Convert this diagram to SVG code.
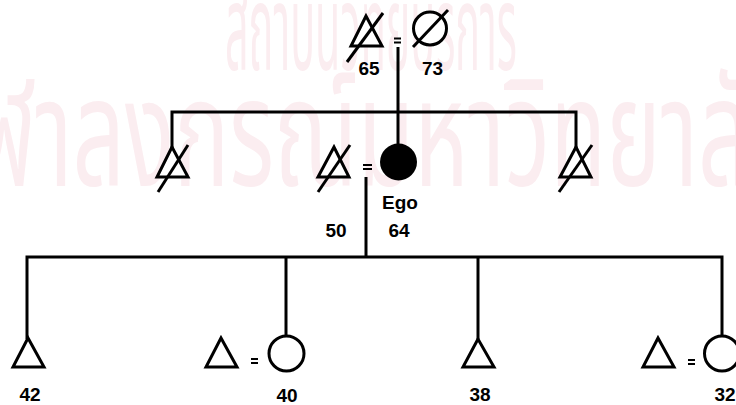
<svg xmlns="http://www.w3.org/2000/svg" width="736" height="405" viewBox="0 0 736 405">
<style>
.wm{font-family:"Noto Sans Thai","Noto Sans","DejaVu Sans",sans-serif;fill:#fbedf0}
.ln{stroke:#000;stroke-width:3;fill:none}
.sym{stroke:#000;stroke-width:3;fill:#fff;stroke-linejoin:miter}
.sl{stroke:#000;stroke-width:3;fill:none}
.eq{stroke:#000;stroke-width:2;fill:none}
.lb{font-family:"Liberation Sans",Arial,sans-serif;font-weight:bold;font-size:19px;fill:#000;text-anchor:middle}
</style>
<rect width="736" height="405" fill="#fff"/>
<g id="watermark">
<text class="wm" x="225" y="70" font-size="120" textLength="292" lengthAdjust="spacingAndGlyphs">สถาบันวิทยบริการ</text>
<text class="wm" x="-75" y="186" font-size="150" textLength="880" lengthAdjust="spacingAndGlyphs">จุฬาลงกรณ์มหาวิทยาลัย</text>
</g>
<g id="connectors">
<line class="ln" x1="398" y1="47" x2="398" y2="145"/>
<polyline class="ln" points="172,148 172,112 576,112 576,148"/>
<line class="ln" x1="366" y1="177" x2="366" y2="257"/>
<polyline class="ln" points="27,339 27,257 722,257 722,336"/>
<line class="ln" x1="286" y1="257" x2="286" y2="336"/>
<line class="ln" x1="478" y1="257" x2="478" y2="339"/>
</g>
<g id="grandfather">
<polygon class="sym" points="366,16 351,46 382,46"/>
<line class="sl" x1="383" y1="13" x2="347" y2="62"/>
<text class="lb" x="369" y="75">65</text>
</g>
<g id="grandmarriage">
<line class="eq" x1="394" y1="38.5" x2="401" y2="38.5"/>
<line class="eq" x1="394" y1="42.5" x2="401" y2="42.5"/>
</g>
<g id="grandmother">
<circle class="sym" cx="430" cy="28.5" r="16.5"/>
<line class="sl" x1="448" y1="10" x2="413" y2="47"/>
<text class="lb" x="432.5" y="75">73</text>
</g>
<g id="brother1">
<polygon class="sym" points="172,147 157,177 188,177"/>
<line class="sl" x1="188" y1="145" x2="158" y2="192"/>
</g>
<g id="husband">
<polygon class="sym" points="334,147 318,177 349,177"/>
<line class="sl" x1="350" y1="145" x2="318" y2="192"/>
<text class="lb" x="336" y="237">50</text>
</g>
<g id="egomarriage">
<line class="eq" x1="363" y1="165" x2="372" y2="165"/>
<line class="eq" x1="363" y1="169" x2="372" y2="169"/>
</g>
<g id="ego">
<circle cx="398.5" cy="162" r="18.5" fill="#000"/>
<text class="lb" x="400" y="209">Ego</text>
<text class="lb" x="399" y="237">64</text>
</g>
<g id="brother2">
<polygon class="sym" points="576,147 560,177 591,177"/>
<line class="sl" x1="592" y1="145" x2="559" y2="192"/>
</g>
<g id="child42">
<polygon class="sym" points="28,338 13,367 44,367"/>
<text class="lb" x="30" y="401">42</text>
</g>
<g id="child40">
<polygon class="sym" points="221,338 206,367 237,367"/>
<line class="eq" x1="251" y1="359" x2="258" y2="359"/>
<line class="eq" x1="251" y1="363" x2="258" y2="363"/>
<circle class="sym" cx="286.5" cy="353.5" r="17.5"/>
<text class="lb" x="287" y="402">40</text>
</g>
<g id="child38">
<polygon class="sym" points="478,339 463,367 494,367"/>
<text class="lb" x="480" y="401">38</text>
</g>
<g id="child32">
<polygon class="sym" points="658,338 643,367 674,367"/>
<line class="eq" x1="688" y1="360" x2="695" y2="360"/>
<line class="eq" x1="688" y1="364" x2="695" y2="364"/>
<circle class="sym" cx="722" cy="353.5" r="17.5"/>
<text class="lb" x="725" y="401">32</text>
</g>
</svg>
